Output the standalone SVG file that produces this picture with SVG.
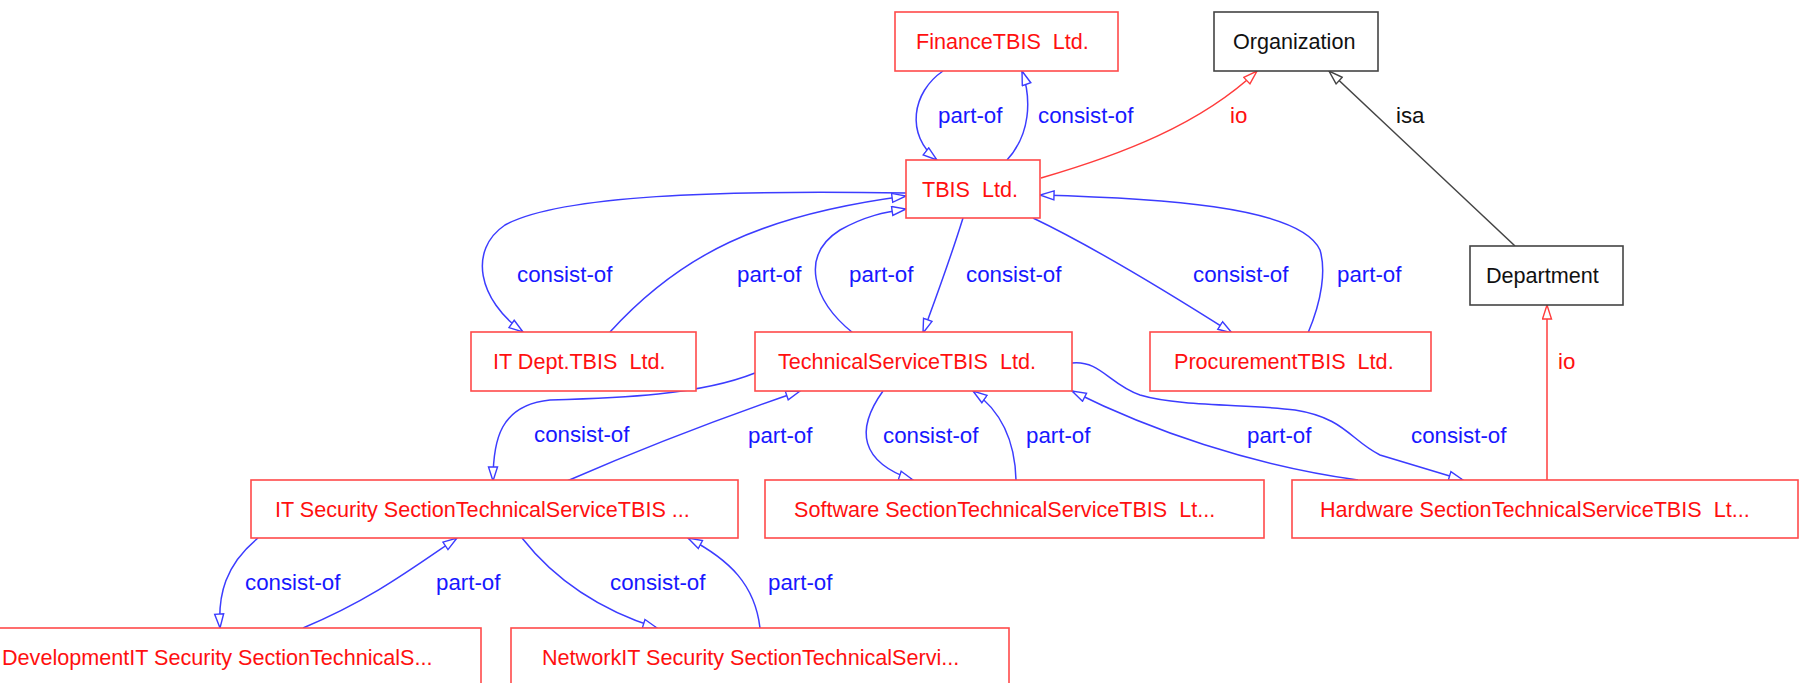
<svg xmlns="http://www.w3.org/2000/svg" width="1802" height="683" viewBox="0 0 1802 683">
  <style>
    .bg { fill: #ffffff; }
    .node rect { fill: #ffffff; stroke-width: 1.6; }
    .inst rect { stroke: #ff4a4a; }
    .cls rect { stroke: #444444; }
    .node text { font-family: "Liberation Sans", Arial, sans-serif; font-size: 21.6px; white-space: pre; }
    .inst text { fill: #ff1010; }
    .cls text { fill: #111111; }
    .edge { fill: none; stroke-width: 1.5; }
    .rel { stroke: #3c3cff; marker-end: url(#arrowBlue); }
    .io { stroke: #ff3c3c; marker-end: url(#arrowRed); }
    .isa { stroke: #444444; marker-end: url(#arrowGray); }
    .lbl { font-family: "Liberation Sans", Arial, sans-serif; font-size: 22.3px; }
    .lbl-rel { fill: #1818ff; }
    .lbl-io { fill: #ff1010; }
    .lbl-isa { fill: #111111; }
  </style>
  <defs>
    <marker id="arrowBlue" markerUnits="userSpaceOnUse" markerWidth="18" markerHeight="13" refX="15" refY="5.5" orient="auto">
      <path d="M1,1 L15,5.5 L1,10 Z" fill="#ffffff" stroke="#3c3cff" stroke-width="1.4"/>
    </marker>
    <marker id="arrowRed" markerUnits="userSpaceOnUse" markerWidth="18" markerHeight="13" refX="15" refY="5.5" orient="auto">
      <path d="M1,1 L15,5.5 L1,10 Z" fill="#ffffff" stroke="#ff3c3c" stroke-width="1.4"/>
    </marker>
    <marker id="arrowGray" markerUnits="userSpaceOnUse" markerWidth="18" markerHeight="13" refX="15" refY="5.5" orient="auto">
      <path d="M1,1 L15,5.5 L1,10 Z" fill="#ffffff" stroke="#444444" stroke-width="1.4"/>
    </marker>
  </defs>

  <rect class="bg" x="0" y="0" width="1802" height="683"/>

  <!-- connectors -->
  <g id="connectors">
    <!-- FinanceTBIS / TBIS -->
    <path class="edge rel" d="M943,71 C912,92 905,135 937,160"/>
    <path class="edge rel" d="M1007,160 C1030,135 1032,100 1022,71"/>
    <!-- TBIS io Organization -->
    <path class="edge io" d="M1041,178 C1120,155 1200,125 1257,71"/>
    <!-- Department isa Organization -->
    <path class="edge isa" d="M1515,246 L1329,71"/>
    <!-- Hardware io Department -->
    <path class="edge io" d="M1547,480 L1547,305"/>
    <!-- TBIS / IT Dept -->
    <path class="edge rel" d="M906,193 C720,190 560,195 505,225 C468,250 478,300 523,332"/>
    <path class="edge rel" d="M610,332 C680,255 760,215 906,196"/>
    <!-- TBIS / TechnicalService -->
    <path class="edge rel" d="M853,333 C812,300 800,255 840,230 C865,216 885,212 906,209"/>
    <path class="edge rel" d="M963,218 C950,260 935,300 923,333"/>
    <!-- TBIS / Procurement -->
    <path class="edge rel" d="M1033,218 C1100,250 1180,300 1232,333"/>
    <path class="edge rel" d="M1308,333 C1322,300 1326,270 1320,250 C1300,205 1150,198 1040,195"/>
    <!-- TechnicalService / IT Security -->
    <path class="edge rel" d="M755,373 C700,395 620,398 550,400 C500,405 493,440 493,481"/>
    <path class="edge rel" d="M567,481 C650,445 730,415 800,391"/>
    <!-- TechnicalService / Software -->
    <path class="edge rel" d="M883,391 C855,430 860,462 913,480"/>
    <path class="edge rel" d="M1016,480 C1015,440 1000,410 973,391"/>
    <!-- TechnicalService / Hardware -->
    <path class="edge rel" d="M1072,363 C1100,360 1110,385 1140,395 C1180,407 1250,404 1295,410 C1345,418 1350,440 1380,455 L1463,480"/>
    <path class="edge rel" d="M1358,480 C1250,465 1150,430 1072,391"/>
    <!-- IT Security / Development -->
    <path class="edge rel" d="M258,538 C225,565 218,595 220,628"/>
    <path class="edge rel" d="M303,628 C370,600 410,570 457,538"/>
    <!-- IT Security / Network -->
    <path class="edge rel" d="M522,538 C555,580 600,610 657,628"/>
    <path class="edge rel" d="M760,628 C755,585 730,560 688,538"/>

    <!-- connector labels -->
    <text class="lbl lbl-rel" x="938" y="123">part-of</text>
    <text class="lbl lbl-rel" x="1038" y="123">consist-of</text>
    <text class="lbl lbl-io" x="1230" y="123">io</text>
    <text class="lbl lbl-isa" x="1396" y="123">isa</text>
    <text class="lbl lbl-rel" x="517" y="282">consist-of</text>
    <text class="lbl lbl-rel" x="737" y="282">part-of</text>
    <text class="lbl lbl-rel" x="849" y="282">part-of</text>
    <text class="lbl lbl-rel" x="966" y="282">consist-of</text>
    <text class="lbl lbl-rel" x="1193" y="282">consist-of</text>
    <text class="lbl lbl-rel" x="1337" y="282">part-of</text>
    <text class="lbl lbl-io" x="1558" y="369">io</text>
    <text class="lbl lbl-rel" x="534" y="442">consist-of</text>
    <text class="lbl lbl-rel" x="748" y="443">part-of</text>
    <text class="lbl lbl-rel" x="883" y="443">consist-of</text>
    <text class="lbl lbl-rel" x="1026" y="443">part-of</text>
    <text class="lbl lbl-rel" x="1247" y="443">part-of</text>
    <text class="lbl lbl-rel" x="1411" y="443">consist-of</text>
    <text class="lbl lbl-rel" x="245" y="590">consist-of</text>
    <text class="lbl lbl-rel" x="436" y="590">part-of</text>
    <text class="lbl lbl-rel" x="610" y="590">consist-of</text>
    <text class="lbl lbl-rel" x="768" y="590">part-of</text>
  </g>

  <!-- nodes -->
  <g id="finance" class="node inst">
    <rect x="895" y="12" width="223" height="59"/>
    <text x="916" y="49">FinanceTBIS  Ltd.</text>
  </g>
  <g id="organization" class="node cls">
    <rect x="1214" y="12" width="164" height="59"/>
    <text x="1233" y="49">Organization</text>
  </g>
  <g id="tbis" class="node inst">
    <rect x="906" y="160" width="134" height="58"/>
    <text x="922" y="197">TBIS  Ltd.</text>
  </g>
  <g id="department" class="node cls">
    <rect x="1470" y="246" width="153" height="59"/>
    <text x="1486" y="283">Department</text>
  </g>
  <g id="itdept" class="node inst">
    <rect x="471" y="332" width="225" height="59"/>
    <text x="493" y="369">IT Dept.TBIS  Ltd.</text>
  </g>
  <g id="technicalservice" class="node inst">
    <rect x="755" y="332" width="317" height="59"/>
    <text x="778" y="369">TechnicalServiceTBIS  Ltd.</text>
  </g>
  <g id="procurement" class="node inst">
    <rect x="1150" y="332" width="281" height="59"/>
    <text x="1174" y="369">ProcurementTBIS  Ltd.</text>
  </g>
  <g id="itsecurity" class="node inst">
    <rect x="251" y="480" width="487" height="58"/>
    <text x="275" y="517">IT Security SectionTechnicalServiceTBIS ...</text>
  </g>
  <g id="software" class="node inst">
    <rect x="765" y="480" width="499" height="58"/>
    <text x="794" y="517">Software SectionTechnicalServiceTBIS  Lt...</text>
  </g>
  <g id="hardware" class="node inst">
    <rect x="1292" y="480" width="506" height="58"/>
    <text x="1320" y="517">Hardware SectionTechnicalServiceTBIS  Lt...</text>
  </g>
  <g id="development" class="node inst">
    <rect x="-20" y="628" width="501" height="58"/>
    <text x="2" y="665">DevelopmentIT Security SectionTechnicalS...</text>
  </g>
  <g id="network" class="node inst">
    <rect x="511" y="628" width="498" height="58"/>
    <text x="542" y="665">NetworkIT Security SectionTechnicalServi...</text>
  </g>
</svg>
